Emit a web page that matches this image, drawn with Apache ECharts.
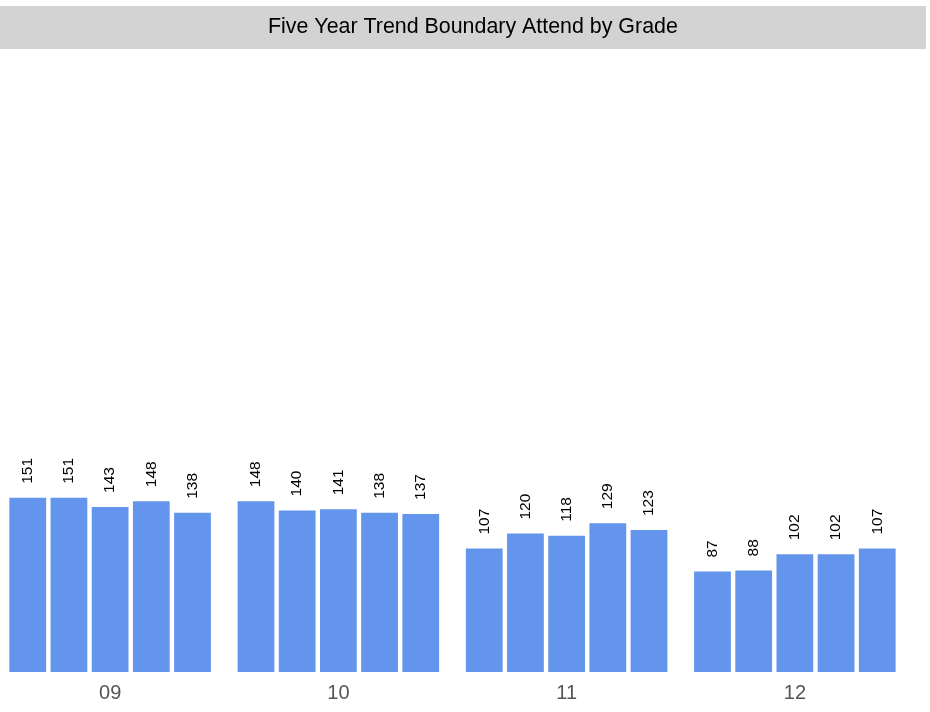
<!DOCTYPE html>
<html lang="en">

<head>
    <meta charset="UTF-8">
    <title>Five Year Trend Boundary Attend by Grade</title>
    <script src="https://cdn.jsdelivr.net/npm/echarts@6/dist/echarts.min.js"></script>
    <style>
        html, body { margin: 0; padding: 0; background: #fff; overflow: hidden; }
        /* chart is shifted 4px left so the first group sits near the edge */
        #main { width: 934px; height: 712px; margin-left: -4px; }
    </style>
</head>

<body>
    <div id="main"></div>
</body>
<script>
    // grades on the x axis
    var grades = ['09', '10', '11', '12'];
    // one array per year (values per grade)
    var year1 = [151, 148, 107, 87];
    var year2 = [151, 140, 120, 88];
    var year3 = [143, 141, 118, 102];
    var year4 = [148, 138, 129, 102];
    var year5 = [138, 137, 123, 107];
    var yearNames = ['Year 1', 'Year 2', 'Year 3', 'Year 4', 'Year 5'];
    var yearData = [year1, year2, year3, year4, year5];

    var chart = echarts.init(document.getElementById('main'));

    var font = 'Liberation Sans, Arial, sans-serif';

    var series = yearData.map(function (d, i) {
        return {
            name: yearNames[i],
            type: 'bar',
            data: d,
            barGap: '12%',
            barCategoryGap: '11.7%',
            itemStyle: { color: '#6495ED' },
            label: {
                show: true,
                position: 'top',
                rotate: 90,
                align: 'left',
                verticalAlign: 'middle',
                distance: 14,
                color: '#000',
                fontSize: 15.5,
                fontFamily: font
            }
        };
    });

    var option = {
        animation: false,
        graphic: [{
            type: 'rect',
            left: 4,
            top: 6,
            shape: { width: 926, height: 43 },
            style: { fill: '#d3d3d3' },
            z: -1
        }],
        title: {
            text: 'Five Year Trend Boundary Attend by Grade',
            left: 267,
            top: 12,
            textStyle: {
                color: '#000',
                fontSize: 21.4,
                fontWeight: 'normal',
                fontFamily: font
            }
        },
        grid: { left: 0, width: 913, top: 95, bottom: 40 },
        xAxis: {
            type: 'category',
            data: grades,
            axisLine: { show: false },
            axisTick: { show: false },
            axisLabel: {
                color: '#555',
                fontSize: 20,
                margin: 11,
                fontFamily: font
            }
        },
        yAxis: {
            type: 'value',
            min: 0,
            max: 500,
            show: false
        },
        series: series
    };

    chart.setOption(option);
</script>

</html>
